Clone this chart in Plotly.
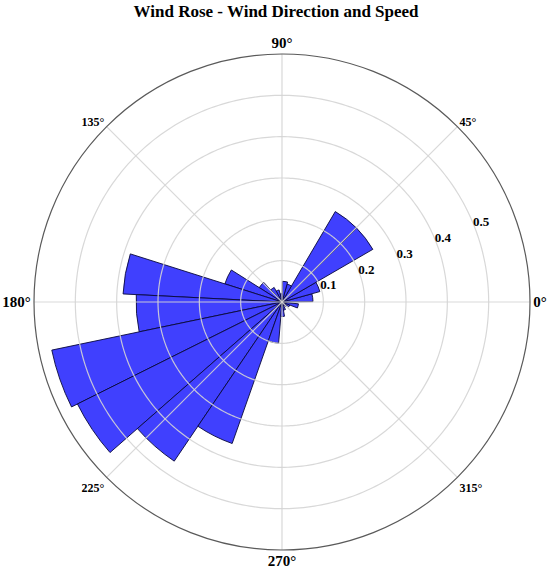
import numpy as np
import plotly.graph_objects as go

# Bin centres (degrees, counter-clockwise from east) and relative frequencies
directions = [8.05, 22.75, 37.45, 52.15, 66.85, 81.55, 96.25, 110.95, 125.65, 140.35,
              155.05, 169.75, 184.45, 199.15, 213.85, 228.55, 243.25, 257.95, 272.65,
              287.35, 302.05, 316.75, 331.45, 346.15]
frequency = [0.075, 0.095, 0.254, 0.254, 0.045, 0.05, 0.02, 0.03, 0.04, 0.065,
             0.145, 0.385, 0.353, 0.569, 0.553, 0.465, 0.363, 0.10, 0.035,
             0.02, 0.01, 0.015, 0.02, 0.04]
bin_width = 14.7

radial_ticks = [0.1, 0.2, 0.3, 0.4, 0.5]
radial_labels = ["0.1", "0.2", "0.3", "0.4", "0.5"]
radial_max = 0.6
radial_label_angle = 22.5
angle_ticks = [0, 45, 90, 135, 180, 225, 270, 315]
angle_labels = ["0°", "45°", "90°", "135°", "180°", "225°", "270°", "315°"]

big = {0, 90, 180, 270}
ticktext = []
for a, t in zip(angle_ticks, angle_labels):
    size = 15 if a in big else 12
    ticktext.append(f"<span style='font-size:{size}px'><b>{t}</b></span>")

grid_color = "rgba(212,212,212,0.9)"

fig = go.Figure()
fig.add_trace(go.Barpolar(
    r=frequency,
    theta=directions,
    width=[bin_width] * len(directions),
    marker=dict(color="rgb(64,64,254)",
                line=dict(color="rgba(10,10,60,0.9)", width=1)),
    showlegend=False,
))

# grid lines drawn on top of the bars (as in the reference)
circle_theta = np.linspace(0, 360, 361)
for rv in radial_ticks:
    fig.add_trace(go.Scatterpolar(
        r=[rv] * len(circle_theta), theta=circle_theta, mode="lines",
        line=dict(color=grid_color, width=1.2), hoverinfo="skip", showlegend=False))
for a in angle_ticks:
    fig.add_trace(go.Scatterpolar(
        r=[0, radial_max], theta=[a, a], mode="lines",
        line=dict(color=grid_color, width=1.2), hoverinfo="skip", showlegend=False))

# radial tick labels placed along the 22.5 degree line
fig.add_trace(go.Scatterpolar(
    r=radial_ticks, theta=[radial_label_angle] * len(radial_ticks),
    mode="text", text=radial_labels, textposition="middle right",
    textfont=dict(family="Liberation Serif", size=13, color="black", weight="bold"),
    hoverinfo="skip", showlegend=False))

fig.update_layout(
    width=550, height=575,
    margin=dict(l=34, r=20, t=54, b=25),
    paper_bgcolor="white",
    title=dict(text="<b>Wind Rose - Wind Direction and Speed</b>",
               x=0.502, xanchor="center", y=0.981, yanchor="middle",
               font=dict(family="Liberation Serif", size=17, color="black")),
    font=dict(family="Liberation Serif", color="black"),
    polar=dict(
        bgcolor="white",
        domain=dict(x=[0, 1], y=[0, 1]),
        radialaxis=dict(range=[0, radial_max], tickvals=radial_ticks,
                        showticklabels=False, showline=False, ticks="",
                        showgrid=False),
        angularaxis=dict(rotation=0, direction="counterclockwise",
                         tickvals=angle_ticks, ticktext=ticktext, ticks="",
                         showline=True, linecolor="rgb(90,90,90)", linewidth=1.2,
                         showgrid=False, layer="above traces",
                         tickfont=dict(family="Liberation Serif", size=13, color="black")),
    ),
)

fig.write_html("out.html", config={"displayModeBar": False},
               post_script="document.body.style.margin='0';")
